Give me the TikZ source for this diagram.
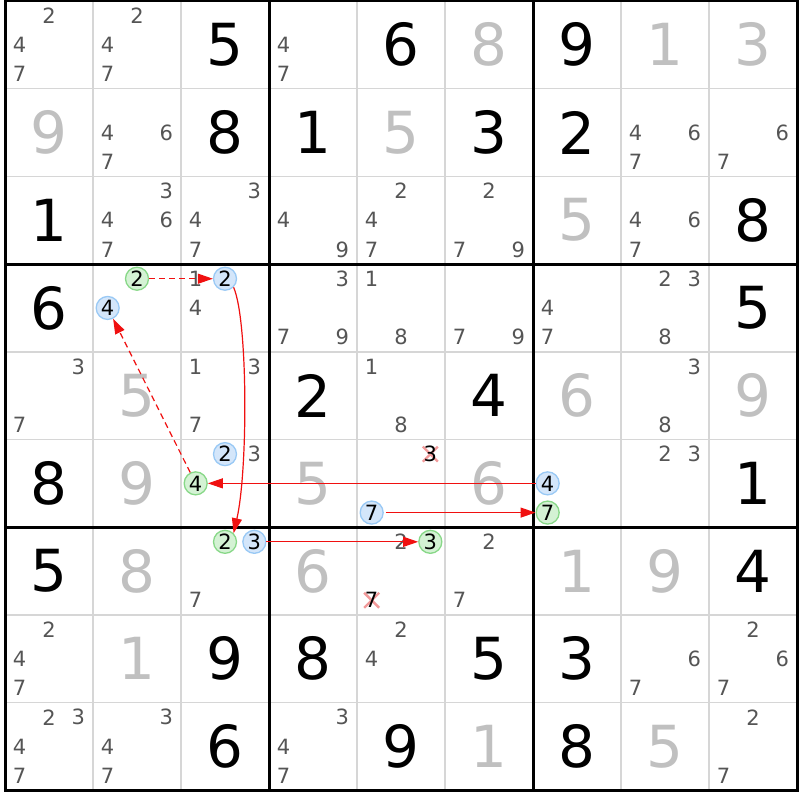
\documentclass[tikz,border=0pt]{standalone}
\usepackage{fontspec}
\setmainfont{DejaVu Sans}
\usetikzlibrary{arrows.meta}
\definecolor{candgray}{HTML}{555555}
\definecolor{solvgray}{HTML}{C0C0C0}
\definecolor{gridgray}{HTML}{D6D6D6}
\definecolor{gfill}{HTML}{D4F2D4}
\definecolor{gline}{HTML}{88D888}
\definecolor{bfill}{HTML}{D4E6FA}
\definecolor{bline}{HTML}{99C9F5}
\definecolor{xred}{HTML}{F29A9A}
\definecolor{linkred}{HTML}{F01010}
\newcommand\CW{88}
\newcommand\CH{87.7}
\tikzset{
 givendig/.style={font=\fontsize{58}{60}\selectfont, text=black, inner sep=0pt},
 solveddig/.style={givendig, text=solvgray},
 cand/.style={font=\fontsize{21}{23}\selectfont, text=candgray, inner sep=0pt},
 cgreen/.style={cand, text=black, circle, draw=gline, fill=gfill, line width=1.3pt, minimum size=23pt},
 cblue/.style={cgreen, draw=bline, fill=bfill},
 link/.style={linkred, line width=1.2pt, -{Triangle[length=15pt,width=10pt]}},
 weak/.style={link, dash pattern=on 6pt off 4pt},
}
\newcommand\bigpos[2]{\pgfmathsetmacro\bx{5+\CW*(#2-0.5)}\pgfmathsetmacro\by{1+\CH*(#1-0.5)}}
\newcommand\gv[3]{\bigpos{#1}{#2}\node[givendig] (g#1#2) at (\bx,\by) {#3};}
\newcommand\sv[3]{\bigpos{#1}{#2}\node[solveddig] (g#1#2) at (\bx,\by) {#3};}
\newcommand\cpos[3]{\pgfmathsetmacro\cx{5+\CW*(#2-1)+(mod(#3-1,3)+0.5)*\CW/3}\pgfmathsetmacro\cy{1+\CH*(#1-1)+(floor((#3-1)/3)+0.5)*\CH/3}}
\newcommand\cnd[4][cand]{\cpos{#2}{#3}{#4}\node[#1] (k#2#3#4) at (\cx,\cy) {#4};}
\newcommand\cnds[3]{\foreach \dd in {#3}{\cnd{#1}{#2}{\dd}}}
\newcommand\mkx[3]{\cpos{#1}{#2}{#3}\draw[xred, line width=2.4pt] (\cx-7.5,\cy-7.5) -- (\cx+7.5,\cy+7.5) (\cx-7.5,\cy+7.5) -- (\cx+7.5,\cy-7.5);}
\begin{document}
\begin{tikzpicture}[x=1pt,y=-1pt]
\useasboundingbox (0,0) rectangle (800,800);
\fill[white] (0,0) rectangle (800,800);
% thin grid
\foreach \i in {1,2,4,5,7,8}{
 \draw[gridgray, line width=1.5pt] (5+\CW*\i,1) -- (5+\CW*\i,1+9*\CH);
 \draw[gridgray, line width=1.5pt] (5,1+\CH*\i) -- (5+9*\CW,1+\CH*\i);
}
% thick grid
\foreach \i in {3,6}{
 \draw[black, line width=3pt] (5+\CW*\i,1) -- (5+\CW*\i,1+9*\CH);
 \draw[black, line width=3pt] (5,1+\CH*\i) -- (5+9*\CW,1+\CH*\i);
}
\draw[black, line width=3pt] (5,1) rectangle (5+9*\CW,1+9*\CH);
% givens
\gv{1}{3}{5}\gv{1}{5}{6}\gv{1}{7}{9}
\gv{2}{3}{8}\gv{2}{4}{1}\gv{2}{6}{3}\gv{2}{7}{2}
\gv{3}{1}{1}\gv{3}{9}{8}
\gv{4}{1}{6}\gv{4}{9}{5}
\gv{5}{4}{2}\gv{5}{6}{4}
\gv{6}{1}{8}\gv{6}{9}{1}
\gv{7}{1}{5}\gv{7}{9}{4}
\gv{8}{3}{9}\gv{8}{4}{8}\gv{8}{6}{5}\gv{8}{7}{3}
\gv{9}{3}{6}\gv{9}{5}{9}\gv{9}{7}{8}
% solved
\sv{1}{6}{8}\sv{1}{8}{1}\sv{1}{9}{3}
\sv{2}{1}{9}\sv{2}{5}{5}
\sv{3}{7}{5}
\sv{5}{2}{5}\sv{5}{7}{6}\sv{5}{9}{9}
\sv{6}{2}{9}\sv{6}{4}{5}\sv{6}{6}{6}
\sv{7}{2}{8}\sv{7}{4}{6}\sv{7}{7}{1}\sv{7}{8}{9}
\sv{8}{2}{1}
\sv{9}{6}{1}\sv{9}{8}{5}
% candidates
\cnds{1}{1}{2,4,7}\cnds{1}{2}{2,4,7}\cnds{1}{4}{4,7}
\cnds{2}{2}{4,6,7}\cnds{2}{8}{4,6,7}\cnds{2}{9}{6,7}
\cnds{3}{2}{3,4,6,7}\cnds{3}{3}{3,4,7}\cnds{3}{4}{4,9}\cnds{3}{5}{2,4,7}\cnds{3}{6}{2,7,9}\cnds{3}{8}{4,6,7}
\cnd[cgreen]{4}{2}{2}\cnd[cblue]{4}{2}{4}
\cnds{4}{3}{1,4}\cnd[cblue]{4}{3}{2}
\cnds{4}{4}{3,7,9}\cnds{4}{5}{1,8}\cnds{4}{6}{7,9}\cnds{4}{7}{4,7}\cnds{4}{8}{2,3,8}
\cnds{5}{1}{3,7}\cnds{5}{3}{1,3,7}\cnds{5}{5}{1,8}\cnds{5}{8}{3,8}
\cnd[cblue]{6}{3}{2}\cnd{6}{3}{3}\cnd[cgreen]{6}{3}{4}
\mkx{6}{5}{3}\cnd[cand,text=black]{6}{5}{3}\cnd[cblue]{6}{5}{7}
\cnd[cblue]{6}{7}{4}\cnd[cgreen]{6}{7}{7}
\cnds{6}{8}{2,3}
\cnd[cgreen]{7}{3}{2}\cnd[cblue]{7}{3}{3}\cnd{7}{3}{7}
\cnd{7}{5}{2}\cnd[cgreen]{7}{5}{3}\mkx{7}{5}{7}\cnd[cand,text=black]{7}{5}{7}
\cnds{7}{6}{2,7}
\cnds{8}{1}{2,4,7}\cnds{8}{5}{2,4}\cnds{8}{8}{6,7}\cnds{8}{9}{2,6,7}
\cnds{9}{1}{2,3,4,7}\cnds{9}{2}{3,4,7}\cnds{9}{4}{3,4,7}\cnds{9}{9}{2,7}
% links
\draw[weak] (k422) -- (k432);
\draw[link] (k432.-45) .. controls (248,320) and (248,470) .. (k732.45);
\draw[link] (k733) -- (k753);
\draw[link, shorten <=2pt] (k657) -- (k677);
\draw[link, line width=1pt] (k674) -- (k634);
\draw[weak] (k634) -- (k424);
\end{tikzpicture}
\end{document}
